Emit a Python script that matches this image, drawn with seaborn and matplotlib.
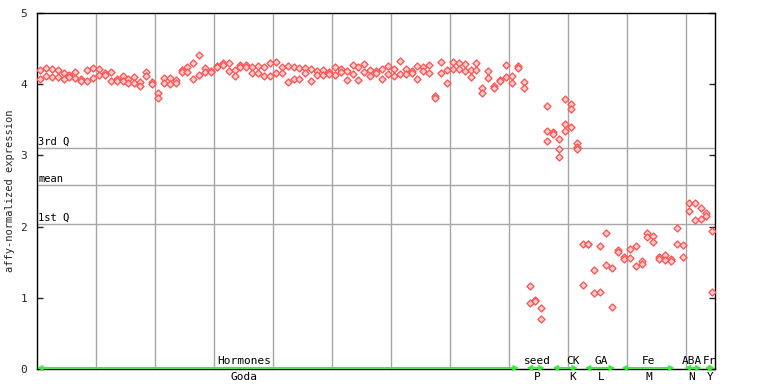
import matplotlib
matplotlib.use("Agg")
import matplotlib.pyplot as plt
import seaborn as sns
import pandas as pd

# ---- data ----
sample_index = [
    0, 0, 1, 1, 2, 2, 3, 3, 4, 4, 5, 5, 6, 6, 7, 7, 8, 8, 9, 9,
    10, 10, 11, 11, 12, 12, 13, 13, 14, 14, 15, 15, 16, 16, 17, 17, 18, 18, 19, 19,
    20, 20, 21, 21, 22, 22, 23, 23, 24, 24, 25, 25, 26, 26, 27, 27, 28, 28, 29, 29,
    30, 30, 31, 31, 32, 32, 33, 33, 34, 34, 35, 35, 36, 36, 37, 37, 38, 38, 39, 39,
    40, 40, 41, 41, 42, 42, 43, 43, 44, 44, 45, 45, 46, 46, 47, 47, 48, 48, 49, 49,
    50, 50, 51, 51, 52, 52, 53, 53, 54, 54, 55, 55, 56, 56, 57, 57, 58, 58, 59, 59,
    60, 60, 61, 61, 62, 62, 63, 63, 64, 64, 65, 65, 66, 66, 67, 67, 68, 68, 69, 69,
    70, 70, 71, 71, 72, 72, 73, 73, 74, 74, 75, 75, 76, 76, 77, 77, 78, 78, 79, 79,
    80, 80, 81, 81, 82, 82,
    83, 83, 84, 84, 85, 85,
    86, 86, 86, 87, 87, 88, 88, 88, 89, 89, 89, 90, 90, 90, 91, 91, 91,
    92, 92, 93, 93, 94, 94, 95, 95, 96, 96, 97, 97,
    98, 98, 99, 99, 100, 100, 101, 101, 102, 102, 103, 103, 104, 104,
    105, 105, 106, 106, 107, 107, 108, 108, 109, 109,
    110, 110, 111, 111, 112, 112, 113, 113, 114, 114,
]
expression = [
    4.20, 4.07, 4.23, 4.12, 4.21, 4.10, 4.20, 4.10, 4.16, 4.07,
    4.13, 4.10, 4.17, 4.09, 4.07, 4.05, 4.20, 4.04, 4.23, 4.09,
    4.21, 4.13, 4.16, 4.13, 4.17, 4.04, 4.07, 4.04, 4.12, 4.04,
    4.07, 4.01, 4.10, 4.01, 4.03, 3.97, 4.17, 4.12, 4.03, 4.00,
    3.87, 3.80, 4.09, 4.01, 4.09, 4.00, 4.06, 4.01, 4.20, 4.17,
    4.24, 4.17, 4.30, 4.08, 4.41, 4.13, 4.23, 4.17, 4.19, 4.17,
    4.25, 4.24, 4.30, 4.27, 4.30, 4.18, 4.20, 4.12, 4.27, 4.24,
    4.27, 4.24, 4.24, 4.16, 4.25, 4.16, 4.24, 4.12, 4.30, 4.12,
    4.31, 4.16, 4.24, 4.16, 4.25, 4.03, 4.24, 4.07, 4.23, 4.07,
    4.23, 4.16, 4.21, 4.04, 4.18, 4.13, 4.20, 4.13, 4.17, 4.15,
    4.24, 4.13, 4.21, 4.17, 4.18, 4.06, 4.27, 4.14, 4.24, 4.06,
    4.28, 4.17, 4.20, 4.12, 4.18, 4.16, 4.21, 4.07, 4.25, 4.14,
    4.21, 4.12, 4.32, 4.14, 4.21, 4.14, 4.18, 4.16, 4.25, 4.07,
    4.24, 4.18, 4.27, 4.16, 3.83, 3.81, 4.31, 4.16, 4.20, 4.01,
    4.31, 4.21, 4.30, 4.21, 4.28, 4.18, 4.20, 4.10, 4.30, 4.20,
    3.94, 3.87, 4.18, 4.09, 3.97, 3.95, 4.06, 4.05, 4.27, 4.10,
    4.12, 4.02, 4.25, 4.23, 4.03, 3.95,
    1.17, 0.93, 0.97, 0.96, 0.86, 0.70,
    3.69, 3.34, 3.20, 3.33, 3.30, 3.23, 3.09, 2.98, 3.79, 3.44, 3.34,
    3.72, 3.65, 3.40, 3.17, 3.12, 3.09,
    1.76, 1.18, 1.76, 1.75, 1.39, 1.07, 1.73, 1.08, 1.91, 1.46, 1.42, 0.87,
    1.67, 1.64, 1.57, 1.55, 1.69, 1.56, 1.73, 1.45, 1.52, 1.47, 1.91, 1.85,
    1.87, 1.78, 1.57, 1.54, 1.60, 1.53, 1.54, 1.52, 1.98, 1.76, 1.74, 1.57,
    2.33, 2.22, 2.33, 2.09, 2.26, 2.11, 2.19, 2.15, 1.94, 1.08,
]

# reference lines
ref_names = ["3rd Q", "mean", "1st Q"]
ref_values = [3.10, 2.58, 2.04]

# experiment groups: top label, bottom label, span (sample index), label centre
group_top = ["Hormones", "seed", "CK", "GA", "Fe", "ABA", "Fr"]
group_bottom = ["Goda", "P", "K", "L", "M", "N", "Y"]
group_start = [-0.5, 82.5, 86.9, 92.4, 98.6, 109.3, 112.7]
group_end = [81.2, 85.6, 91.2, 97.5, 107.6, 112.2, 114.4]
group_label_pos = [34.6, 84.3, 90.3, 95.2, 103.2, 110.5, 113.6]

y_ticks = [0, 1, 2, 3, 4, 5]

# ---- plotting ----
sns.set_style("white")
mono = ["DejaVu Sans Mono"]
plt.rcParams["font.family"] = mono

fig = plt.figure(figsize=(7.68, 3.84), dpi=100)
ax = fig.add_axes([37 / 768, 1 - 369 / 384, (715 - 37) / 768, (369 - 13) / 384])

df = pd.DataFrame({"sample": sample_index, "expression": expression})

# grid lines
for gx in range(10, 115, 10):
    ax.axvline(gx - 0.5, color="#a6a6a6", lw=1.0, zorder=1)
for name, val in zip(ref_names, ref_values):
    ax.axhline(val, color="#a6a6a6", lw=1.0, zorder=1)
    ax.text(-0.3, val + 0.02, name, fontsize=7.5, va="bottom", ha="left",
            color="black", zorder=2)

sns.scatterplot(data=df, x="sample", y="expression", ax=ax, marker="D", s=13,
                color="#ffcccc", edgecolor="#ff5050", linewidth=0.9, zorder=3,
                legend=False)

ax.set_xlim(-0.5, 114.45)
ax.set_ylim(0, 5)
ax.set_yticks(y_ticks)
ax.set_yticklabels([str(t) for t in y_ticks], fontsize=8)
ax.set_xticks([])
ax.tick_params(axis="y", direction="in", length=4.5, width=1, right=True,
               left=True, labelright=False, pad=7)
for sp in ax.spines.values():
    sp.set_color("black")
    sp.set_linewidth(1.0)
    sp.set_visible(True)
ax.set_xlabel("")
ax.set_ylabel("affy-normalized expression", fontsize=7.5, va="center")
ax.yaxis.set_label_coords(-0.04, 0.5)

# group arrows and labels
for top, bot, s0, s1, c in zip(group_top, group_bottom, group_start,
                                group_end, group_label_pos):
    ax.annotate("", xy=(s1, 0.015), xytext=(s0, 0.015),
                arrowprops=dict(arrowstyle="<->", color="#33ee33", lw=1.3,
                                mutation_scale=7, shrinkA=0, shrinkB=0),
                annotation_clip=False, zorder=4)
    ax.text(c, 0.04, top, fontsize=8, ha="center", va="bottom", color="black",
            clip_on=False, zorder=5)
    ax.text(c, -0.04, bot, fontsize=8, ha="center", va="top", color="black",
            clip_on=False)

fig.savefig("out.png", dpi=100)
